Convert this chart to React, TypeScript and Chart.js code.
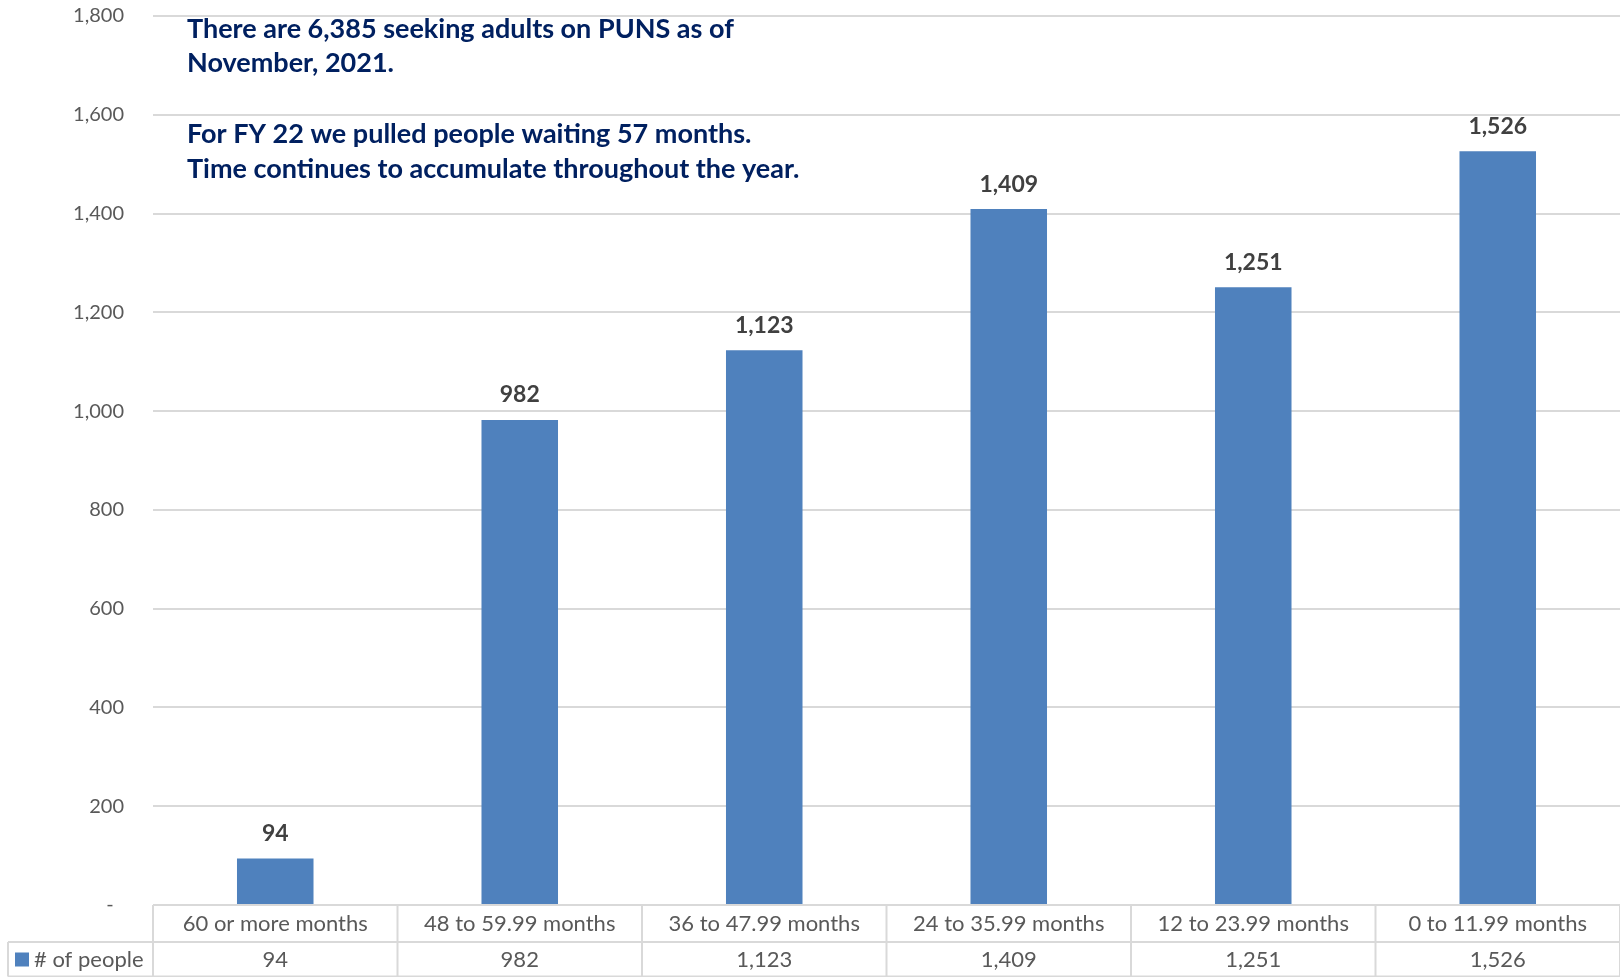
import { useEffect, useRef } from 'react';
import { Chart, registerables } from 'chart.js';

Chart.register(...registerables);

// Waiting-time buckets and head counts
const categories = [
  '60 or more months',
  '48 to 59.99 months',
  '36 to 47.99 months',
  '24 to 35.99 months',
  '12 to 23.99 months',
  '0 to 11.99 months',
];
const people = [94, 982, 1123, 1409, 1251, 1526];
const seriesName = '# of people';

// Value axis range
const yMin = 0;
const yMax = 1800;
const yStep = 200;

// Annotation text in the upper-left of the plot
const noteLines = [
  'There are 6,385 seeking adults on PUNS as of',
  'November, 2021.',
  'For FY 22 we pulled people waiting 57 months.',
  'Time continues to accumulate throughout the year.',
];
const noteLineY = [29, 63, 134, 169];

const FONT = 'Lato, "Open Sans", sans-serif';
const BAR = '#4f81bd';
const GRID = '#d9d9d9';
const TEXT_GRAY = '#595959';
const NAVY = '#002060';

const fmt = (v: number) => v.toLocaleString('en-US');

const dataLabels = {
  id: 'dataLabels',
  afterDatasetsDraw(chart: any) {
    const ctx = chart.ctx;
    const meta = chart.getDatasetMeta(0);
    ctx.save();
    ctx.font = `bold 23px ${FONT}`;
    ctx.fillStyle = '#404040';
    ctx.textAlign = 'center';
    ctx.textBaseline = 'middle';
    meta.data.forEach((bar: any, i: number) => {
      ctx.fillText(fmt(people[i]), bar.x, bar.y - 25);
    });
    ctx.restore();
  },
};

const notes = {
  id: 'notes',
  afterDraw(chart: any) {
    const ctx = chart.ctx;
    ctx.save();
    ctx.font = `bold 27px ${FONT}`;
    ctx.fillStyle = NAVY;
    ctx.textAlign = 'left';
    ctx.textBaseline = 'middle';
    noteLines.forEach((line, i) => {
      ctx.fillText(line, 187, noteLineY[i]);
    });
    ctx.restore();
  },
};

// Data table under the plot: category row, then value row with legend key
const dataTable = {
  id: 'dataTable',
  afterDraw(chart: any) {
    const ctx = chart.ctx;
    const x = chart.scales.x;
    const area = chart.chartArea;
    const top = area.bottom;
    const mid = top + 37;
    const bottom = chart.height - 0.5;
    const n = categories.length;
    const edges: number[] = [area.left];
    for (let i = 0; i < n - 1; i++) {
      edges.push((x.getPixelForValue(i) + x.getPixelForValue(i + 1)) / 2);
    }
    edges.push(area.right);

    ctx.save();
    ctx.strokeStyle = GRID;
    ctx.lineWidth = 2;
    ctx.beginPath();
    ctx.moveTo(area.left, top);
    ctx.lineTo(area.right, top);
    ctx.moveTo(8, mid);
    ctx.lineTo(area.right, mid);
    ctx.moveTo(8, bottom);
    ctx.lineTo(area.right, bottom);
    edges.forEach((e) => {
      ctx.moveTo(e, top);
      ctx.lineTo(e, bottom);
    });
    ctx.moveTo(8, mid);
    ctx.lineTo(8, bottom);
    ctx.stroke();

    ctx.font = `22px ${FONT}`;
    ctx.fillStyle = TEXT_GRAY;
    ctx.textAlign = 'center';
    ctx.textBaseline = 'middle';
    for (let i = 0; i < n; i++) {
      const cx = x.getPixelForValue(i);
      ctx.fillText(categories[i], cx, (top + mid) / 2);
      ctx.fillText(fmt(people[i]), cx, (mid + chart.height) / 2);
    }

    const rowY = (mid + chart.height) / 2;
    ctx.fillStyle = BAR;
    ctx.fillRect(15, rowY - 7, 14, 14);
    ctx.fillStyle = TEXT_GRAY;
    ctx.textAlign = 'left';
    ctx.fillText(seriesName, 34, rowY);
    ctx.restore();
  },
};

export default function App() {
  const ref = useRef<HTMLCanvasElement>(null);

  useEffect(() => {
    if (!ref.current) return;
    const chart = new Chart(ref.current, {
      type: 'bar',
      data: {
        labels: categories,
        datasets: [
          {
            label: seriesName,
            data: people,
            backgroundColor: BAR,
            barPercentage: 0.313,
            categoryPercentage: 1,
          },
        ],
      },
      options: {
        animation: false,
        responsive: true,
        maintainAspectRatio: false,
        layout: { padding: { top: 16, right: 0, bottom: 72, left: 0 } },
        plugins: {
          legend: { display: false },
          tooltip: { enabled: false },
        },
        scales: {
          x: { display: false },
          y: {
            min: yMin,
            max: yMax,
            afterFit: (scale: any) => {
              scale.width = 153;
              scale.paddingTop = 0;
              scale.paddingBottom = 0;
            },
            border: { display: false },
            grid: { color: GRID, lineWidth: 2, drawTicks: false },
            ticks: {
              stepSize: yStep,
              padding: 29,
              color: TEXT_GRAY,
              font: { family: FONT, size: 20 },
              callback: (v: any) => (Number(v) === 0 ? '-  ' : fmt(Number(v))),
            },
          },
        },
      },
      plugins: [dataLabels, notes, dataTable],
    });
    return () => chart.destroy();
  }, []);

  return (
    <div style={{ position: 'fixed', left: 0, top: 0, width: 1620, height: 977, background: '#fff' }}>
      <canvas ref={ref} />
    </div>
  );
}
